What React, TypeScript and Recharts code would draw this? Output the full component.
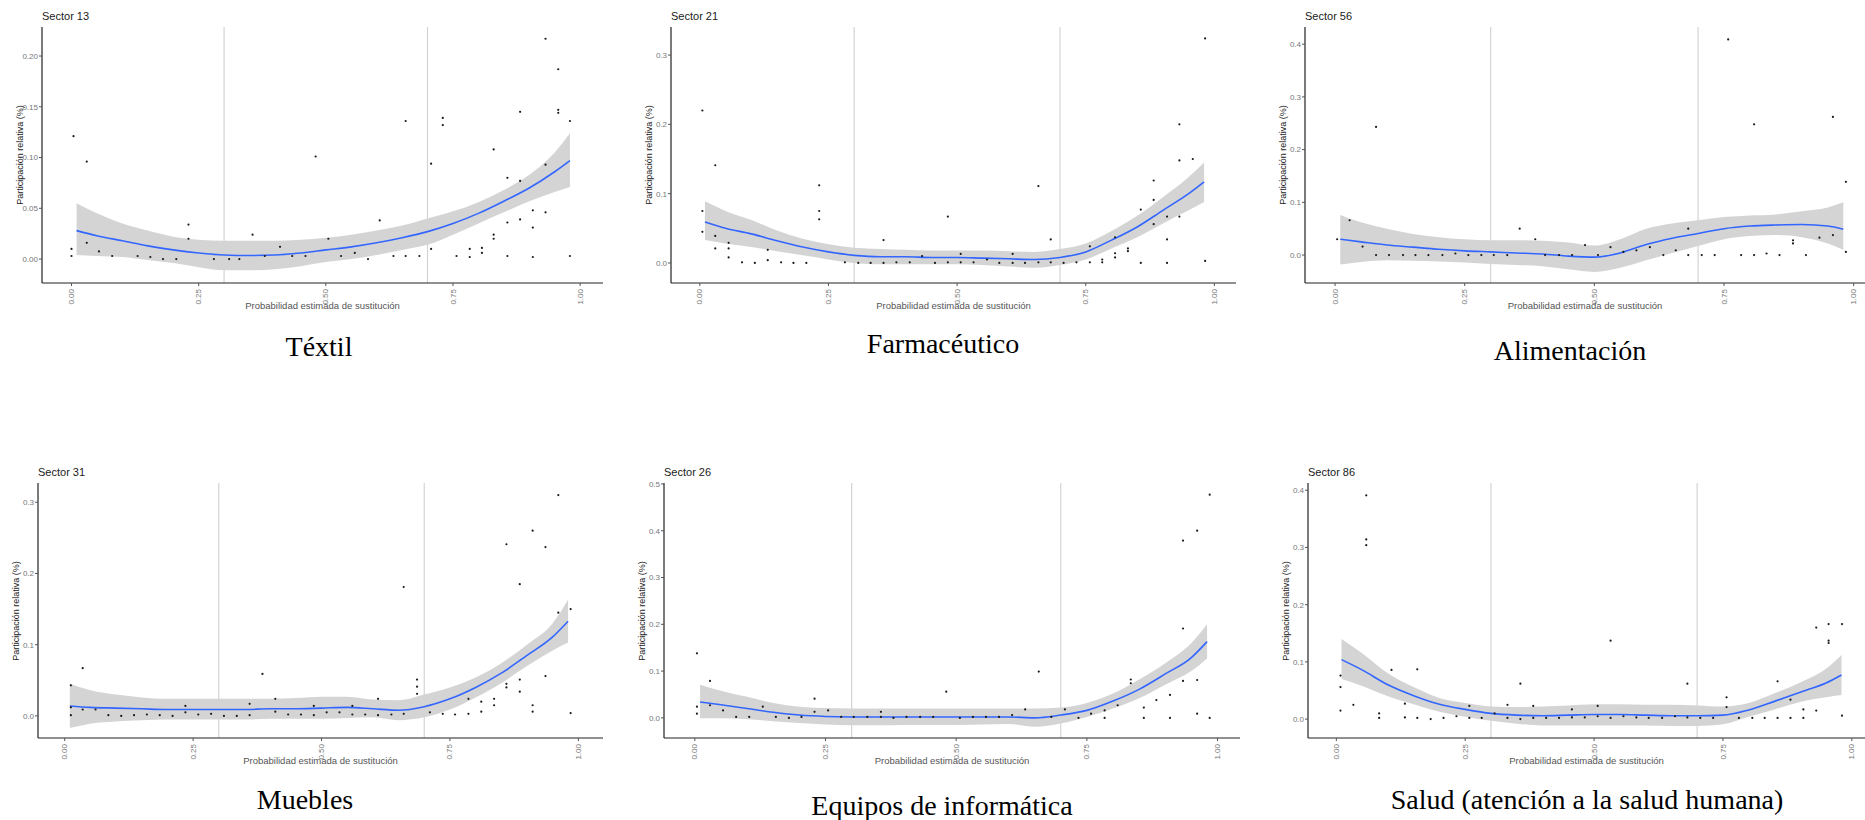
import React from "react"
import { ComposedChart, XAxis, YAxis, Scatter, Line, Area, ReferenceLine } from "recharts"

// x grid where the smoothed curve and its band are read
const FIT_X = [0.01, 0.05, 0.1, 0.15, 0.2, 0.25, 0.3, 0.35, 0.4, 0.45, 0.5, 0.55, 0.6, 0.65, 0.7, 0.75, 0.8, 0.85, 0.9, 0.95, 0.98]
const X_TICKS = [0, 0.25, 0.5, 0.75, 1]
const CUTOFFS = [0.3, 0.7]

// Sector 13 - Téxtil
const s13Fit = [0.028, 0.023, 0.018, 0.013, 0.009, 0.006, 0.004, 0.0035, 0.004, 0.006, 0.009, 0.012, 0.016, 0.021, 0.027, 0.035, 0.045, 0.057, 0.07, 0.086, 0.097]
const s13Hi = [0.055, 0.045, 0.035, 0.028, 0.022, 0.019, 0.018, 0.018, 0.018, 0.019, 0.021, 0.024, 0.028, 0.033, 0.04, 0.047, 0.056, 0.068, 0.083, 0.105, 0.124]
const s13Lo = [0.004, 0.003, 0.002, -0.001, -0.004, -0.008, -0.011, -0.011, -0.01, -0.007, -0.003, 0.0, 0.004, 0.009, 0.014, 0.024, 0.035, 0.046, 0.057, 0.066, 0.071]
const s13Points = [
  [0.004, 0.121], [0.03, 0.096], [0.03, 0.016], [0.0, 0.003], [0.0, 0.01], [0.054, 0.0075], [0.08, 0.003], [0.13, 0.003],
  [0.155, 0.002], [0.18, 0.0], [0.206, 0.0], [0.23, 0.034], [0.23, 0.02], [0.28, 0], [0.31, 0], [0.33, 0], [0.356, 0.024],
  [0.38, 0.003], [0.41, 0.012], [0.434, 0.003], [0.46, 0.003], [0.48, 0.101], [0.505, 0.02], [0.53, 0.003], [0.557, 0.006],
  [0.583, 0], [0.606, 0.038], [0.633, 0.003], [0.657, 0.136], [0.657, 0.003], [0.684, 0.003], [0.707, 0.094], [0.707, 0.01],
  [0.73, 0.139], [0.73, 0.132], [0.757, 0.003], [0.783, 0.01], [0.783, 0.002], [0.807, 0.011], [0.807, 0.006], [0.83, 0.108],
  [0.83, 0.024], [0.83, 0.02], [0.857, 0.036], [0.857, 0.08], [0.857, 0.003], [0.882, 0.145], [0.882, 0.077], [0.882, 0.039],
  [0.907, 0.048], [0.907, 0.031], [0.907, 0.002], [0.932, 0.217], [0.932, 0.093], [0.932, 0.046], [0.957, 0.187], [0.957, 0.147],
  [0.957, 0.144], [0.98, 0.136], [0.98, 0.003],
]

// Sector 21 - Farmacéutico
const s21Fit = [0.059, 0.05, 0.042, 0.032, 0.023, 0.016, 0.011, 0.009, 0.009, 0.008, 0.008, 0.007, 0.006, 0.005, 0.008, 0.016, 0.033, 0.052, 0.076, 0.1, 0.117]
const s21Hi = [0.089, 0.075, 0.062, 0.047, 0.035, 0.027, 0.022, 0.02, 0.019, 0.018, 0.018, 0.018, 0.017, 0.016, 0.02, 0.028, 0.046, 0.068, 0.095, 0.124, 0.145]
const s21Lo = [0.033, 0.028, 0.023, 0.017, 0.011, 0.005, 0.0, -0.002, -0.002, -0.002, -0.002, -0.003, -0.005, -0.007, -0.003, 0.005, 0.021, 0.037, 0.057, 0.076, 0.088]
const s21Points = [
  [0.005, 0.22], [0.005, 0.075], [0.005, 0.045], [0.03, 0.141], [0.03, 0.039], [0.03, 0.021], [0.056, 0.029], [0.056, 0.021],
  [0.056, 0.008], [0.082, 0.001], [0.107, 0], [0.132, 0.004], [0.132, 0.019], [0.158, 0.001], [0.182, 0], [0.207, 0],
  [0.232, 0.112], [0.232, 0.075], [0.232, 0.063], [0.282, 0.001], [0.308, 0], [0.332, 0], [0.357, 0.033], [0.357, 0],
  [0.382, 0.001], [0.408, 0.001], [0.432, 0.01], [0.457, 0], [0.482, 0.067], [0.482, 0.001], [0.507, 0.013], [0.507, 0.001],
  [0.532, 0.001], [0.558, 0.005], [0.582, 0], [0.608, 0.013], [0.608, 0], [0.632, 0], [0.658, 0.111], [0.658, 0.001],
  [0.682, 0.034], [0.682, 0.001], [0.707, 0], [0.732, 0.001], [0.758, 0.024], [0.758, 0.001], [0.782, 0.005], [0.782, 0.001],
  [0.807, 0.037], [0.807, 0.014], [0.807, 0.008], [0.832, 0.021], [0.832, 0.017], [0.857, 0.077], [0.857, 0], [0.882, 0.119],
  [0.882, 0.091], [0.882, 0.056], [0.908, 0.067], [0.908, 0.034], [0.908, 0], [0.932, 0.2], [0.932, 0.148], [0.932, 0.067],
  [0.958, 0.15], [0.982, 0.324], [0.982, 0.003],
]

// Sector 56 - Alimentación
const s56Fit = [0.03, 0.025, 0.019, 0.015, 0.011, 0.008, 0.006, 0.004, 0.002, -0.002, -0.004, 0.004, 0.02, 0.032, 0.041, 0.05, 0.055, 0.057, 0.058, 0.055, 0.049]
const s56Hi = [0.076, 0.062, 0.05, 0.04, 0.034, 0.03, 0.028, 0.028, 0.027, 0.024, 0.018, 0.03, 0.05, 0.06, 0.066, 0.072, 0.075, 0.077, 0.083, 0.09, 0.1]
const s56Lo = [-0.018, -0.013, -0.01, -0.011, -0.012, -0.014, -0.017, -0.019, -0.021, -0.027, -0.032, -0.024, -0.01, 0.004, 0.017, 0.03, 0.036, 0.038, 0.034, 0.022, 0.01]
const s56Points = [
  [0.004, 0.03], [0.028, 0.066], [0.053, 0.016], [0.079, 0.243], [0.079, 0], [0.104, 0], [0.131, 0], [0.155, 0], [0.18, 0],
  [0.207, 0], [0.232, 0.003], [0.257, 0], [0.282, 0], [0.306, 0], [0.332, 0], [0.356, 0.05], [0.386, 0.03], [0.405, 0],
  [0.432, 0], [0.457, 0], [0.482, 0.019], [0.507, 0], [0.531, 0.015], [0.556, 0.006], [0.581, 0.009], [0.607, 0.015],
  [0.633, 0], [0.657, 0.009], [0.681, 0.05], [0.681, 0], [0.707, 0], [0.732, 0], [0.758, 0.409], [0.783, 0], [0.808, 0.248],
  [0.808, 0], [0.832, 0.003], [0.857, 0], [0.883, 0.028], [0.883, 0.022], [0.908, 0], [0.934, 0.033], [0.96, 0.262],
  [0.96, 0.038], [0.985, 0.139], [0.985, 0.006],
]

// Sector 31 - Muebles
const s31Fit = [0.014, 0.012, 0.011, 0.01, 0.009, 0.009, 0.009, 0.009, 0.01, 0.01, 0.011, 0.012, 0.01, 0.008, 0.013, 0.024, 0.04, 0.06, 0.085, 0.111, 0.133]
const s31Hi = [0.045, 0.036, 0.03, 0.026, 0.024, 0.024, 0.024, 0.024, 0.024, 0.025, 0.027, 0.027, 0.023, 0.022, 0.03, 0.04, 0.054, 0.074, 0.1, 0.13, 0.163]
const s31Lo = [-0.017, -0.011, -0.008, -0.006, -0.005, -0.005, -0.005, -0.005, -0.004, -0.004, -0.004, -0.003, -0.002, -0.006, -0.002, 0.009, 0.026, 0.046, 0.07, 0.092, 0.103]
const s31Points = [
  [0.012, 0.043], [0.012, 0.012], [0.012, 0.001], [0.035, 0.067], [0.035, 0.009], [0.06, 0.009], [0.085, 0.001], [0.11, 0],
  [0.135, 0.001], [0.16, 0.002], [0.185, 0.001], [0.21, 0], [0.235, 0.014], [0.235, 0.005], [0.26, 0.002], [0.285, 0.003],
  [0.31, 0], [0.335, 0], [0.36, 0.017], [0.36, 0.001], [0.385, 0.059], [0.41, 0.024], [0.41, 0.006], [0.435, 0.002],
  [0.46, 0.002], [0.485, 0.014], [0.485, 0.001], [0.51, 0.005], [0.535, 0.005], [0.56, 0.014], [0.56, 0.002], [0.585, 0.002],
  [0.61, 0.024], [0.61, 0.001], [0.636, 0.002], [0.66, 0.181], [0.66, 0.003], [0.686, 0.051], [0.686, 0.041], [0.686, 0.031],
  [0.711, 0.005], [0.736, 0.003], [0.76, 0.002], [0.786, 0.024], [0.786, 0.003], [0.811, 0.02], [0.811, 0.006], [0.836, 0.024],
  [0.836, 0.015], [0.86, 0.241], [0.86, 0.045], [0.86, 0.04], [0.886, 0.185], [0.886, 0.051], [0.886, 0.034], [0.911, 0.26],
  [0.911, 0.015], [0.911, 0.006], [0.936, 0.237], [0.936, 0.056], [0.961, 0.31], [0.961, 0.145], [0.985, 0.15], [0.985, 0.004],
]

// Sector 26 - Equipos de informática
const s26Fit = [0.034, 0.028, 0.02, 0.012, 0.006, 0.003, 0.002, 0.002, 0.002, 0.002, 0.002, 0.002, 0.002, 0.0, 0.006, 0.016, 0.036, 0.061, 0.094, 0.129, 0.163]
const s26Hi = [0.071, 0.058, 0.045, 0.032, 0.024, 0.021, 0.02, 0.02, 0.02, 0.02, 0.02, 0.02, 0.02, 0.02, 0.022, 0.032, 0.052, 0.082, 0.117, 0.16, 0.2]
const s26Lo = [-0.001, -0.001, -0.003, -0.007, -0.011, -0.014, -0.016, -0.016, -0.015, -0.015, -0.015, -0.014, -0.013, -0.019, -0.012, 0.002, 0.02, 0.042, 0.071, 0.1, 0.127]
const s26Points = [
  [0.004, 0.138], [0.004, 0.024], [0.004, 0.009], [0.029, 0.079], [0.029, 0.027], [0.054, 0.016], [0.079, 0.002], [0.104, 0.002],
  [0.13, 0.024], [0.155, 0.002], [0.18, 0], [0.204, 0.002], [0.229, 0.041], [0.229, 0.013], [0.255, 0.016], [0.28, 0.002],
  [0.304, 0.002], [0.33, 0.002], [0.356, 0.013], [0.356, 0.002], [0.38, 0], [0.405, 0.002], [0.431, 0.002], [0.456, 0.002],
  [0.481, 0.056], [0.507, 0], [0.532, 0.002], [0.557, 0.002], [0.582, 0.002], [0.607, 0.006], [0.632, 0.018], [0.658, 0.099],
  [0.682, 0.002], [0.708, 0.018], [0.734, 0], [0.758, 0.009], [0.784, 0.016], [0.784, 0], [0.809, 0.027], [0.834, 0.082],
  [0.834, 0.074], [0.859, 0.022], [0.859, 0], [0.883, 0.038], [0.909, 0.049], [0.909, 0], [0.934, 0.379], [0.934, 0.191],
  [0.934, 0.079], [0.961, 0.4], [0.961, 0.081], [0.961, 0.009], [0.985, 0.477], [0.985, 0],
]

// Sector 86 - Salud
const s86Fit = [0.104, 0.086, 0.06, 0.041, 0.026, 0.017, 0.01, 0.007, 0.006, 0.007, 0.008, 0.008, 0.007, 0.006, 0.006, 0.007, 0.016, 0.031, 0.047, 0.063, 0.077]
const s86Hi = [0.14, 0.115, 0.08, 0.056, 0.037, 0.028, 0.022, 0.021, 0.022, 0.024, 0.026, 0.026, 0.025, 0.025, 0.024, 0.022, 0.028, 0.045, 0.064, 0.088, 0.112]
const s86Lo = [0.07, 0.058, 0.04, 0.026, 0.013, 0.004, -0.003, -0.008, -0.011, -0.011, -0.011, -0.011, -0.011, -0.012, -0.012, -0.009, 0.004, 0.017, 0.03, 0.038, 0.042]
const s86Points = [
  [0.008, 0.076], [0.008, 0.056], [0.008, 0.015], [0.033, 0.025], [0.058, 0.391], [0.058, 0.314], [0.058, 0.304], [0.083, 0.01],
  [0.083, 0.002], [0.107, 0.086], [0.133, 0.027], [0.133, 0.003], [0.157, 0.087], [0.157, 0.002], [0.183, 0], [0.208, 0.002],
  [0.233, 0.005], [0.258, 0.023], [0.258, 0.002], [0.282, 0.002], [0.307, 0.01], [0.332, 0.025], [0.332, 0.002], [0.357, 0.062],
  [0.357, 0], [0.382, 0.023], [0.382, 0.002], [0.407, 0.002], [0.432, 0.002], [0.457, 0.017], [0.457, 0.003], [0.482, 0.003],
  [0.507, 0.023], [0.507, 0.005], [0.532, 0.137], [0.532, 0.002], [0.557, 0.005], [0.582, 0.003], [0.606, 0.002], [0.632, 0.002],
  [0.657, 0.005], [0.681, 0.062], [0.681, 0.003], [0.706, 0.002], [0.731, 0.002], [0.757, 0.038], [0.757, 0.021], [0.781, 0.002],
  [0.807, 0.002], [0.831, 0.002], [0.856, 0.066], [0.856, 0.002], [0.881, 0.034], [0.881, 0.002], [0.906, 0.017], [0.906, 0.002],
  [0.931, 0.16], [0.931, 0.015], [0.955, 0.166], [0.955, 0.137], [0.955, 0.133], [0.981, 0.166], [0.981, 0.006],
]

const Y_TICKS_2 = [0, 0.05, 0.1, 0.15, 0.2]
const Y_TICKS_3 = [0, 0.1, 0.2, 0.3]
const Y_TICKS_4 = [0, 0.1, 0.2, 0.3, 0.4]
const Y_TICKS_5 = [0, 0.1, 0.2, 0.3, 0.4, 0.5]

const Y_AXIS_W = 30
const X_AXIS_H = 26
const TOP_PAD = 8
const SANS = "'Liberation Sans', Arial, sans-serif"
const SERIF = "'Liberation Serif', 'Times New Roman', serif"

const panels = [
  { title: "Sector 13", caption: "Téxtil", fit: s13Fit, lo: s13Lo, hi: s13Hi, points: s13Points, yTicks: Y_TICKS_2, digits: 2,
    left: 42, top: 27, right: 603, bottom: 283, xDomain: [-0.058, 1.045], yDomain: [-0.0236, 0.2286], capX: 319, capY: 347 },
  { title: "Sector 21", caption: "Farmacéutico", fit: s21Fit, lo: s21Lo, hi: s21Hi, points: s21Points, yTicks: Y_TICKS_3, digits: 1,
    left: 671, top: 27, right: 1236, bottom: 283, xDomain: [-0.056, 1.042], yDomain: [-0.0289, 0.3405], capX: 943, capY: 344 },
  { title: "Sector 56", caption: "Alimentación", fit: s56Fit, lo: s56Lo, hi: s56Hi, points: s56Points, yTicks: Y_TICKS_4, digits: 1,
    left: 1305, top: 27, right: 1877, bottom: 283, xDomain: [-0.058, 1.045], yDomain: [-0.053, 0.4326], capX: 1570, capY: 351 },
  { title: "Sector 31", caption: "Muebles", fit: s31Fit, lo: s31Lo, hi: s31Hi, points: s31Points, yTicks: Y_TICKS_3, digits: 1,
    left: 38, top: 483, right: 603, bottom: 738, xDomain: [-0.052, 1.048], yDomain: [-0.031, 0.327], capX: 305, capY: 800 },
  { title: "Sector 26", caption: "Equipos de informática", fit: s26Fit, lo: s26Lo, hi: s26Hi, points: s26Points, yTicks: Y_TICKS_5, digits: 1,
    left: 664, top: 483, right: 1240, bottom: 738, xDomain: [-0.059, 1.043], yDomain: [-0.043, 0.502], capX: 942, capY: 806 },
  { title: "Sector 86", caption: "Salud (atención a la salud humana)", fit: s86Fit, lo: s86Lo, hi: s86Hi, points: s86Points, yTicks: Y_TICKS_4, digits: 1,
    left: 1308, top: 483, right: 1875, bottom: 738, xDomain: [-0.055, 1.045], yDomain: [-0.033, 0.4126], capX: 1587, capY: 800 },
]

const RotTick = (props: any) => {
  const { x, y, payload } = props
  return (
    <g transform={`translate(${x},${y + 1}) rotate(-90)`}>
      <text x={0} y={0} dy="0.32em" textAnchor="end" fontSize={8} fill="#777" fontFamily={SANS}>
        {Number(payload.value).toFixed(2)}
      </text>
    </g>
  )
}

const Dot = (props: any) => <circle cx={props.cx} cy={props.cy} r={1.1} fill="#1a1a1a" />

function Panel({ p }: { p: any }) {
  const lineData = FIT_X.map((x, i) => ({ x, fit: p.fit[i], band: [p.lo[i], p.hi[i]] }))
  const pts = p.points.map(([x, y]: number[]) => ({ x, y }))
  const plotW = p.right - p.left
  const plotH = p.bottom - p.top
  const midX = p.left + Math.min(plotW, 1865 - p.left) / 2
  const midY = p.top + plotH / 2
  return (
    <>
      <div style={{ position: "absolute", left: p.left, top: p.top - 18, fontSize: 11, fontFamily: SANS, color: "#1a1a1a", lineHeight: "14px" }}>
        {p.title}
      </div>
      <div style={{ position: "absolute", left: p.left - 22, top: midY, transform: "translate(-50%, -50%) rotate(-90deg)",
        fontSize: 9, fontFamily: SANS, color: "#222", whiteSpace: "nowrap" }}>
        Participación relativa (%)
      </div>
      <div style={{ position: "absolute", left: p.left - Y_AXIS_W, top: p.top - TOP_PAD }}>
        <ComposedChart width={plotW + Y_AXIS_W} height={plotH + X_AXIS_H + TOP_PAD} margin={{ top: TOP_PAD, right: 0, bottom: 0, left: 0 }}>
          <XAxis dataKey="x" type="number" domain={p.xDomain} ticks={X_TICKS} allowDataOverflow interval={0}
            height={X_AXIS_H} tick={<RotTick />} tickSize={3} axisLine={{ stroke: "#222", strokeWidth: 1.2 }} tickLine={{ stroke: "#555" }} />
          <YAxis dataKey="y" type="number" domain={p.yDomain} ticks={p.yTicks} allowDataOverflow interval={0}
            width={Y_AXIS_W} tickSize={3} tickMargin={1} tickFormatter={(v: number) => v.toFixed(p.digits)}
            tick={{ fontSize: 8, fill: "#777", fontFamily: SANS }} axisLine={{ stroke: "#222", strokeWidth: 1.2 }} tickLine={{ stroke: "#555" }} />
          {CUTOFFS.map((c) => (
            <ReferenceLine key={c} x={c} stroke="#d4d4d4" strokeWidth={1.2} />
          ))}
          <Scatter data={pts} dataKey="y" shape={<Dot />} isAnimationActive={false} />
          <Area data={lineData} dataKey="band" type="monotone" stroke="none" fill="#c4c4c4" fillOpacity={0.72} isAnimationActive={false} />
          <Line data={lineData} dataKey="fit" type="monotone" stroke="#3366ff" strokeWidth={1.6} dot={false} isAnimationActive={false} />
        </ComposedChart>
      </div>
      <div style={{ position: "absolute", left: midX, top: p.bottom + 17, transform: "translateX(-50%)",
        fontSize: 9.5, lineHeight: "12px", fontFamily: SANS, color: "#555", whiteSpace: "nowrap" }}>
        Probabilidad estimada de sustitución
      </div>
      <div style={{ position: "absolute", left: p.capX, top: p.capY, transform: "translate(-50%, -50%)",
        fontSize: 28, fontFamily: SERIF, color: "#000", whiteSpace: "nowrap" }}>
        {p.caption}
      </div>
    </>
  )
}

export default function App() {
  return (
    <div style={{ position: "fixed", left: 0, top: 0, width: 1865, height: 820, overflow: "hidden", background: "#fff" }}>
      {panels.map((p) => (
        <Panel key={p.title} p={p} />
      ))}
    </div>
  )
}
